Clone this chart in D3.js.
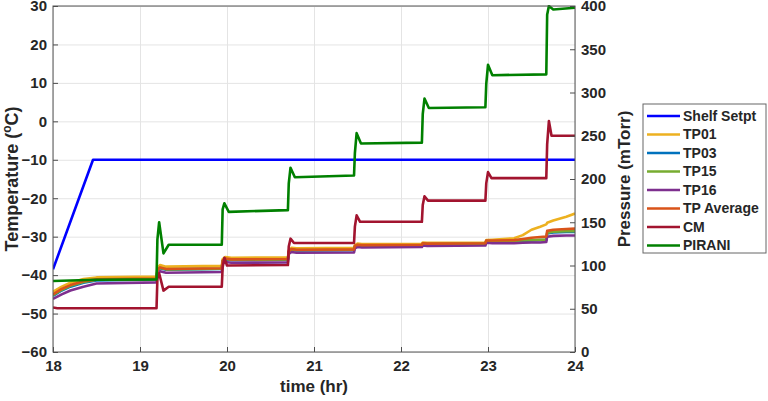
<!DOCTYPE html>
<html>
<head>
<meta charset="utf-8">
<script src="https://cdn.jsdelivr.net/npm/d3@7"></script>
<style>
  body { margin: 0; background: #fff; }
  svg { display: block; font-family: "Liberation Sans", Arial, sans-serif; font-weight: bold; }
  .grid line { stroke: #e4e4e4; stroke-width: 1; }
  .grid path { display: none; }
  .axis path { display: none; }
  .axis line { stroke: #4d4d4d; }
  .axis text { font-size: 15px; fill: #262626; font-weight: bold; }
</style>
</head>
<body>
<script>
var width = 768, height = 401;
var plotLeft = 53, plotRight = 575, plotTop = 6, plotBottom = 352;

// tick labels
var timeTicks = [18, 19, 20, 21, 22, 23, 24];
var tempTicks = [-60, -50, -40, -30, -20, -10, 0, 10, 20, 30];
var presTicks = [0, 50, 100, 150, 200, 250, 300, 350, 400];

// shelf setpoint (deg C)
var shelfT = [18, 18.46, 24];
var shelfV = [-38.5, -10, -10];

// thermocouples (deg C), common time base
var tempT = [18, 18.1, 18.2, 18.35, 18.5, 19.19, 19.2, 19.23, 19.3, 19.94, 19.95, 19.98, 20.05, 20.7, 20.71, 20.74, 20.8,
  21.46, 21.47, 21.5, 21.55, 22.24, 22.25, 22.3, 22.97, 22.98, 23.05, 23.3, 23.4, 23.5, 23.6, 23.67, 23.68, 23.75, 23.9, 24];
var tp01 = [-44.3, -43.0, -42.0, -41.0, -40.6, -40.4, -38.2, -37.4, -37.8, -37.6, -35.9, -35.3, -35.5, -35.4, -33.6, -32.9, -33.0,
  -32.9, -32.2, -31.8, -31.9, -31.9, -31.5, -31.6, -31.5, -30.9, -30.8, -30.4, -29.6, -28.2, -27.4, -26.8, -26.4, -25.8, -24.8, -24.0];
var tp03 = [-45.4, -44.0, -43.0, -42.0, -41.4, -41.1, -39.0, -38.2, -38.6, -38.4, -36.4, -35.9, -36.1, -36.0, -34.0, -33.4, -33.6,
  -33.5, -32.6, -32.3, -32.4, -32.3, -31.9, -32.0, -31.9, -31.2, -31.3, -31.2, -31.1, -31.0, -30.9, -30.9, -29.2, -28.9, -28.8, -28.8];
var tp15 = [-45.2, -43.8, -42.8, -41.8, -41.2, -41.0, -38.9, -38.1, -38.5, -38.3, -36.3, -35.8, -36.0, -35.9, -33.9, -33.3, -33.5,
  -33.4, -32.5, -32.2, -32.3, -32.2, -31.8, -31.9, -31.8, -31.1, -31.2, -31.1, -31.0, -30.9, -30.8, -30.8, -29.0, -28.7, -28.6, -28.6];
var tp16 = [-46.2, -45.0, -44.0, -43.0, -42.2, -41.9, -39.8, -39.0, -39.4, -39.2, -37.0, -36.6, -36.8, -36.7, -34.5, -34.0, -34.2,
  -34.1, -33.0, -32.7, -32.8, -32.7, -32.3, -32.4, -32.3, -31.6, -31.7, -31.7, -31.6, -31.5, -31.5, -31.4, -30.0, -29.8, -29.7, -29.7];
var tpAvg = [-45.0, -43.6, -42.6, -41.6, -41.1, -40.9, -38.7, -38.0, -38.4, -38.2, -36.2, -35.7, -35.9, -35.8, -33.8, -33.2, -33.4,
  -33.3, -32.4, -32.1, -32.2, -32.1, -31.7, -31.8, -31.7, -31.0, -31.0, -30.9, -30.6, -30.3, -30.1, -30.0, -28.5, -28.2, -28.0, -27.9];

// pressures (mTorr)
var cmT = [18, 18.05, 19.19, 19.2, 19.22, 19.27, 19.33, 19.94, 19.95, 19.97, 20.0, 20.7, 20.71, 20.73, 20.77, 21.46, 21.47, 21.49, 21.53,
  22.24, 22.25, 22.27, 22.31, 22.97, 22.98, 23.0, 23.04, 23.67, 23.68, 23.7, 23.73, 24];
var cmV = [51.5, 50.5, 50.5, 85, 91, 71, 75.5, 75.5, 98, 109, 100, 100.5, 122, 131, 126, 126, 145, 158, 150.5,
  150.5, 170, 180, 175, 175, 195, 208, 201, 201, 240, 267, 250, 250];
var piraniT = [18, 18.5, 19.19, 19.2, 19.22, 19.27, 19.33, 19.94, 19.95, 19.97, 20.02, 20.7, 20.71, 20.73, 20.78, 21.46, 21.47, 21.49, 21.54,
  22.24, 22.25, 22.27, 22.32, 22.97, 22.98, 23.0, 23.05, 23.67, 23.68, 23.7, 23.75, 24];
var piraniV = [82, 83.5, 84, 130, 150, 114, 124, 124, 165, 172, 162, 164, 195, 213, 202, 204, 230, 253, 241,
  242, 275, 293, 282, 283, 310, 332, 320, 321, 390, 400, 396, 398];

var names = ["Shelf Setpt", "TP01", "TP03", "TP15", "TP16", "TP Average", "CM", "PIRANI"];
var colors = ["#0000ff", "#edb120", "#0072bd", "#77ac30", "#7e2f8e", "#d95319", "#a2142f", "#008000"];

var x = d3.scaleLinear().domain([18, 24]).range([plotLeft, plotRight]);
var yT = d3.scaleLinear().domain([-60, 30]).range([plotBottom, plotTop]);
var yP = d3.scaleLinear().domain([0, 400]).range([plotBottom, plotTop]);

var svg = d3.select("body").append("svg").attr("width", width).attr("height", height);

svg.append("defs").append("clipPath").attr("id", "plot")
  .append("rect").attr("x", plotLeft).attr("y", plotTop - 1).attr("width", plotRight - plotLeft).attr("height", plotBottom - plotTop + 1);

// grid
svg.append("g").attr("class", "grid").attr("transform", "translate(0," + plotBottom + ")")
  .call(d3.axisBottom(x).tickValues(timeTicks).tickSize(-(plotBottom - plotTop)).tickFormat(""));
svg.append("g").attr("class", "grid").attr("transform", "translate(" + plotLeft + ",0)")
  .call(d3.axisLeft(yT).tickValues(tempTicks).tickSize(-(plotRight - plotLeft)).tickFormat(""));

var series = [
  {t: shelfT, v: shelfV, y: yT},
  {t: tempT, v: tp01, y: yT},
  {t: tempT, v: tp03, y: yT},
  {t: tempT, v: tp15, y: yT},
  {t: tempT, v: tp16, y: yT},
  {t: tempT, v: tpAvg, y: yT},
  {t: cmT, v: cmV, y: yP},
  {t: piraniT, v: piraniV, y: yP}
];

var plot = svg.append("g").attr("clip-path", "url(#plot)");
series.forEach(function(s, i) {
  var line = d3.line()
    .x(function(d, j) { return x(s.t[j]); })
    .y(function(d) { return s.y(d); });
  plot.append("path")
    .attr("d", line(s.v))
    .attr("fill", "none")
    .attr("stroke", colors[i])
    .attr("stroke-width", 2.6)
    .attr("stroke-linejoin", "round");
});

// box
svg.append("rect").attr("x", plotLeft).attr("y", plotTop).attr("width", plotRight - plotLeft).attr("height", plotBottom - plotTop)
  .attr("fill", "none").attr("stroke", "#555").attr("stroke-width", 1);

// axes, ticks pointing in
var fmt = d3.format("d");
svg.append("g").attr("class", "axis").attr("transform", "translate(0," + plotBottom + ")")
  .call(d3.axisBottom(x).tickValues(timeTicks).tickFormat(fmt).tickSizeInner(-5).tickSizeOuter(0).tickPadding(8));
svg.append("g").attr("class", "axis").attr("transform", "translate(" + plotLeft + ",0)")
  .call(d3.axisLeft(yT).tickValues(tempTicks).tickFormat(fmt).tickSizeInner(-5).tickSizeOuter(0).tickPadding(6));
svg.append("g").attr("class", "axis").attr("transform", "translate(" + plotRight + ",0)")
  .call(d3.axisRight(yP).tickValues(presTicks).tickFormat(fmt).tickSizeInner(-5).tickSizeOuter(0).tickPadding(6));

// axis titles
svg.append("text").attr("x", (plotLeft + plotRight) / 2).attr("y", 392).attr("text-anchor", "middle")
  .attr("font-size", 17).attr("fill", "#262626").text("time (hr)");

var tl = svg.append("text").attr("transform", "translate(18," + (plotTop + plotBottom) / 2 + ") rotate(-90)")
  .attr("text-anchor", "middle").attr("font-size", 18).attr("fill", "#262626");
tl.append("tspan").text("Temperature (");
tl.append("tspan").attr("font-size", 12).attr("dy", -7).text("o");
tl.append("tspan").attr("dy", 7).text("C)");

svg.append("text").attr("transform", "translate(630," + (plotTop + plotBottom) / 2 + ") rotate(-90)")
  .attr("text-anchor", "middle").attr("font-size", 17).attr("fill", "#262626").text("Pressure (mTorr)");

// legend
var lg = svg.append("g").attr("transform", "translate(643,104)");
lg.append("rect").attr("width", 123).attr("height", 149).attr("fill", "#fff").attr("stroke", "#666").attr("stroke-width", 1);
names.forEach(function(n, i) {
  var yy = 12 + i * 18.5;
  lg.append("line").attr("x1", 4).attr("x2", 37).attr("y1", yy).attr("y2", yy)
    .attr("stroke", colors[i]).attr("stroke-width", 2.6);
  lg.append("text").attr("x", 40).attr("y", yy).attr("dy", "0.35em")
    .attr("font-size", 14).attr("fill", "#262626").text(n);
});
</script>
</body>
</html>
